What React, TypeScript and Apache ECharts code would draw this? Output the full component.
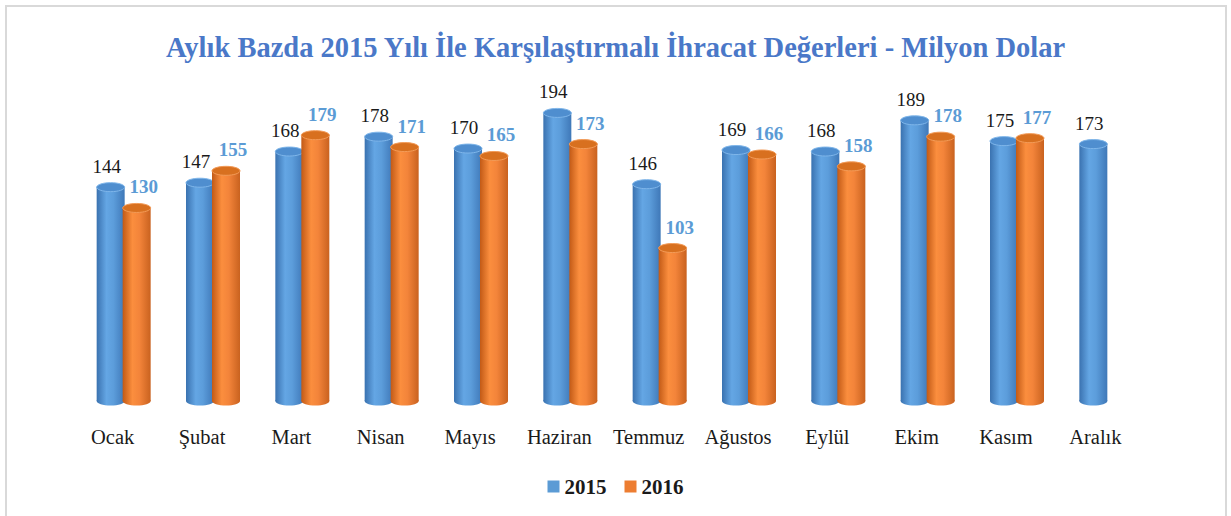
import React, { useEffect, useRef } from "react";
import * as echarts from "echarts";

const categories = ["Ocak", "Şubat", "Mart", "Nisan", "Mayıs", "Haziran", "Temmuz", "Ağustos", "Eylül", "Ekim", "Kasım", "Aralık"];
const values2015 = [144, 147, 168, 178, 170, 194, 146, 169, 168, 189, 175, 173];
const values2016: (number | null)[] = [130, 155, 179, 171, 165, 173, 103, 166, 158, 178, 177, null];
const seriesNames = ["2015", "2016"];
const titleText = "Aylık Bazda 2015 Yılı İle Karşılaştırmalı İhracat Değerleri - Milyon Dolar";

const FONT = "'Liberation Serif', 'DejaVu Serif', serif";

const palettes = [
  {
    body: [
      [0, "#3a72b0"],
      [0.35, "#64a6e4"],
      [0.6, "#5c9ddb"],
      [1, "#3f78b8"],
    ],
    top: "#4f8ecf",
    rim: "#7fb6ea",
    legend: "#5b9bd5",
    label: "#1a1a1a",
    labelWeight: "normal",
    offset: -13,
    labelDx: -4,
  },
  {
    body: [
      [0, "#c25a16"],
      [0.35, "#fb8e3e"],
      [0.6, "#f3843a"],
      [1, "#c9621f"],
    ],
    top: "#d8701f",
    rim: "#f39b58",
    legend: "#ed7d31",
    label: "#5b9bd5",
    labelWeight: "bold",
    offset: 13,
    labelDx: 7,
  },
];

function makeRender(si: number) {
  const p = palettes[si];
  return (params: any, api: any) => {
    const v = api.value(1);
    if (v == null || isNaN(v)) return null;
    const idx = api.value(0);
    const top = api.coord([idx, v]);
    const base = api.coord([idx, 0]);
    const bw = 28;
    const ry = 4.5;
    const cx = top[0] + p.offset;
    const x0 = cx - bw / 2;
    const grad = new echarts.graphic.LinearGradient(
      0,
      0,
      1,
      0,
      p.body.map((s: any) => ({ offset: s[0], color: s[1] }))
    );
    return {
      type: "group",
      children: [
        {
          type: "ellipse",
          shape: { cx, cy: base[1], rx: bw / 2, ry },
          style: { fill: grad },
        },
        {
          type: "rect",
          shape: { x: x0, y: top[1], width: bw, height: base[1] - top[1] },
          style: { fill: grad },
        },
        {
          type: "ellipse",
          shape: { cx, cy: top[1], rx: bw / 2, ry },
          style: { fill: p.top, stroke: p.rim, lineWidth: 1 },
        },
        {
          type: "text",
          x: cx + p.labelDx,
          y: top[1] - 21,
          style: {
            text: String(v),
            fill: p.label,
            font: `${p.labelWeight} 19px ${FONT}`,
            align: "center",
            verticalAlign: "middle",
          },
        },
      ],
    };
  };
}

export default function App() {
  const ref = useRef<HTMLDivElement>(null);
  useEffect(() => {
    if (!ref.current) return;
    const chart = echarts.init(ref.current, null, { renderer: "svg" });
    chart.setOption({
      animation: false,
      backgroundColor: "#ffffff",
      title: {
        text: titleText,
        left: "center",
        top: 28,
        textStyle: {
          fontFamily: FONT,
          fontSize: 28.5,
          fontWeight: "bold",
          color: "#4a78c8",
        },
      },
      legend: {
        bottom: 14,
        left: "center",
        itemWidth: 12,
        itemHeight: 12,
        itemGap: 18,
        textStyle: { fontFamily: FONT, fontSize: 21, fontWeight: "bold", color: "#1a1a1a" },
        data: seriesNames.map((n, i) => ({ name: n, icon: "rect", itemStyle: { color: palettes[i].legend } })),
      },
      grid: { left: 79, right: 80, top: 104, bottom: 115 },
      xAxis: {
        type: "category",
        data: categories,
        axisLine: { show: false },
        axisTick: { show: false },
        axisLabel: {
          fontFamily: FONT,
          fontSize: 20.5,
          color: "#1a1a1a",
          margin: 25,
          padding: [0, 22, 0, 0],
          interval: 0,
        },
      },
      yAxis: { type: "value", min: 0, max: 200, show: false },
      graphic: [
        {
          type: "rect",
          shape: { x: 6, y: 6, width: 1220, height: 530 },
          style: { fill: "none", stroke: "#d9d9d9", lineWidth: 2 },
          silent: true,
        },
      ],
      series: [
        {
          name: seriesNames[0],
          type: "custom",
          itemStyle: { color: palettes[0].legend },
          renderItem: makeRender(0),
          data: values2015.map((v, i) => [i, v]),
        },
        {
          name: seriesNames[1],
          type: "custom",
          itemStyle: { color: palettes[1].legend },
          renderItem: makeRender(1),
          data: values2016.map((v, i) => [i, v]),
        },
      ],
    });
    return () => chart.dispose();
  }, []);
  return <div ref={ref} style={{ position: "absolute", left: 0, top: 0, width: 1231, height: 516 }} />;
}
